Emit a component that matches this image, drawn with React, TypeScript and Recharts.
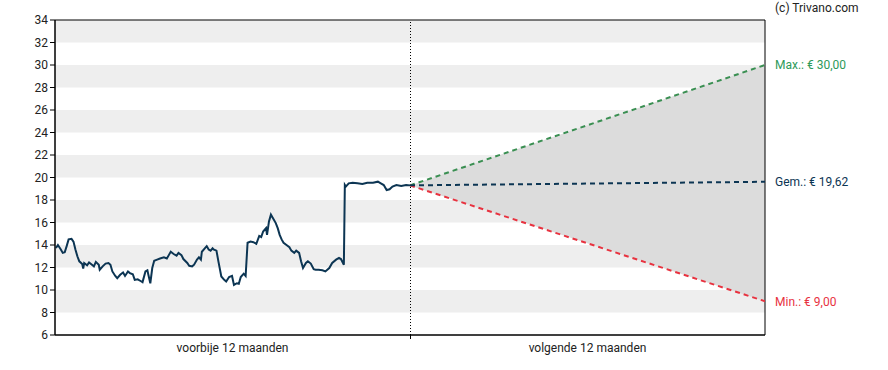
import React from "react";
import {
  ComposedChart,
  Line,
  Area,
  XAxis,
  YAxis,
  ReferenceArea,
  ReferenceLine,
  ReferenceDot,
} from "recharts";

// Historical closing prices (day index within the past 12 months, price in €)
const histDays = [
  1, 3, 6, 8, 10, 12, 14, 17, 19, 21, 23, 25, 28, 29, 30, 33, 35, 38, 40, 42, 45, 46, 49, 52, 55, 57, 59, 62, 64, 67,
  70, 72, 75, 77, 80, 82, 85, 88, 90, 93, 95, 96, 98, 100, 102, 105, 108, 112, 115, 117, 119, 122, 125, 127, 130, 132,
  136, 138, 141, 143, 146, 148, 150, 151, 154, 156, 158, 160, 162, 163, 166, 168, 171, 174, 176, 179, 182, 184, 187,
  189, 191, 194, 196, 198, 201, 204, 207, 210, 212, 214, 217, 218, 220, 222, 224, 227, 229, 231, 233, 235, 238, 241,
  243, 246, 248, 251, 253, 255, 258, 260, 263, 266, 268, 271, 275, 278, 282, 285, 289, 292, 294, 297, 298, 299, 302,
  306, 311, 316, 321, 327, 332, 335, 338, 341, 344, 347, 351, 356, 361, 365,
];
const histPrices = [
  13.73, 14.0, 13.6, 13.3, 13.35, 13.9, 14.5, 14.55, 14.3, 13.6, 13.0, 12.55, 12.3, 11.9, 12.4, 12.2, 12.45, 12.25,
  12.1, 12.5, 12.25, 11.8, 12.1, 12.35, 12.4, 12.25, 11.65, 11.25, 11.05, 11.35, 11.55, 11.25, 11.65, 11.5, 11.4, 10.9,
  10.95, 10.8, 10.7, 11.65, 11.75, 11.35, 10.6, 11.95, 12.6, 12.7, 12.8, 12.9, 12.8, 13.1, 13.4, 13.2, 13.05, 13.3,
  13.1, 12.75, 12.4, 12.15, 12.1, 12.25, 12.7, 12.9, 12.7, 13.4, 13.7, 13.9, 13.6, 13.5, 13.7, 13.6, 13.5, 12.55, 11.2,
  10.9, 10.75, 11.15, 11.25, 10.45, 10.6, 10.55, 11.15, 11.45, 11.25, 14.2, 14.3, 14.25, 14.1, 14.8, 14.7, 15.2, 15.5,
  14.9, 16.1, 16.7, 16.4, 15.95, 15.5, 14.9, 14.5, 14.2, 14.0, 13.8, 13.5, 13.3, 13.5, 13.3, 12.55, 11.95, 12.4, 12.55,
  12.35, 11.85, 11.8, 11.8, 11.75, 11.65, 11.95, 12.4, 12.7, 12.85, 12.75, 12.25, 19.33, 19.19, 19.48, 19.54, 19.48,
  19.42, 19.54, 19.54, 19.63, 19.48, 19.33, 18.89, 18.95, 19.19, 19.33, 19.24, 19.33, 19.3,
];

// Forecast (next 12 months)
const forecastDays = [365, 730];
const forecastMax = [19.3, 30.0];
const forecastAvg = [19.3, 19.62];
const forecastMin = [19.3, 9.0];

const xLabels = ["voorbije 12 maanden", "volgende 12 maanden"];
const xLabelPositions = [182.5, 547.5];
const dividerDay = 365;
const yTicks = [6, 8, 10, 12, 14, 16, 18, 20, 22, 24, 26, 28, 30, 32, 34];
const bandRanges: [number, number][] = [
  [32, 34],
  [28, 30],
  [24, 26],
  [20, 22],
  [16, 18],
  [12, 14],
  [8, 10],
];

const labelMax = "Max.: € 30,00";
const labelAvg = "Gem.: € 19,62";
const labelMin = "Min.: € 9,00";
const copyright = "(c) Trivano.com";

const histData = histDays.map((d, i) => ({ day: d, price: histPrices[i] }));
const forecastData = forecastDays.map((d, i) => ({
  day: d,
  max: forecastMax[i],
  avg: forecastAvg[i],
  min: forecastMin[i],
  range: [forecastMin[i], forecastMax[i]],
}));

const FONT = "Roboto, 'Noto Sans', sans-serif";
const NAVY = "#0c3553";
const GREEN = "#3a8f52";
const GREEN_TEXT = "#2e9a5a";
const RED = "#e8323f";

const XTick = (props: any) => {
  const { x, y, payload } = props;
  const v = payload.value;
  if (v === dividerDay) {
    return (
      <g>
        <line x1={x} x2={x} y1={y - 8} y2={y - 4} stroke="#000" strokeWidth={1} shapeRendering="crispEdges" />
      </g>
    );
  }
  const idx = xLabelPositions.indexOf(v);
  return (
    <g>
      <text x={x} y={y} dy="0.71em" textAnchor="middle" fontSize={12} fill="#222" fontFamily={FONT}>
        {idx >= 0 ? xLabels[idx] : ""}
      </text>
    </g>
  );
};

export default function App() {
  return (
    <div style={{ position: "absolute", left: 0, top: 0, width: 888, height: 370, fontFamily: FONT }}>
      <div
        style={{
          position: "absolute",
          left: 775,
          top: 1,
          fontSize: 12,
          color: "#222",
          fontFamily: FONT,
          whiteSpace: "nowrap",
        }}
      >
        {copyright}
      </div>
      <ComposedChart
        width={888}
        height={370}
        margin={{ top: 20, right: 123, left: 0, bottom: 0 }}
        style={{ fontFamily: FONT }}
      >
        <XAxis
          dataKey="day"
          type="number"
          domain={[0, 730]}
          ticks={[xLabelPositions[0], dividerDay, xLabelPositions[1]]}
          tickLine={false}
          tick={<XTick />}
          axisLine={{ stroke: "#000" }}
          height={35}
          interval={0}
          allowDataOverflow
        />
        <YAxis
          type="number"
          domain={[6, 34]}
          ticks={yTicks}
          interval={0}
          width={55}
          tickSize={5}
          tickMargin={2}
          tick={{ fontSize: 12, fill: "#222", fontFamily: FONT }}
          axisLine={{ stroke: "#000" }}
          tickLine={{ stroke: "#000" }}
          allowDataOverflow
        />
        {bandRanges.map(([a, b]) => (
          <ReferenceArea
            key={a}
            x1={0}
            x2={730}
            y1={a}
            y2={b}
            fill="#eeeeee"
            fillOpacity={1}
            stroke="none"
            ifOverflow="hidden"
          />
        ))}
        <Area
          data={forecastData}
          dataKey="range"
          type="linear"
          fill="#dcdcdc"
          fillOpacity={1}
          stroke="none"
          isAnimationActive={false}
          dot={false}
          activeDot={false}
        />
        <ReferenceLine
          x={dividerDay}
          stroke="#000"
          strokeWidth={1}
          strokeDasharray="1 2"
          shapeRendering="crispEdges"
        />
        <Line
          data={forecastData}
          dataKey="max"
          type="linear"
          stroke={GREEN}
          strokeWidth={2}
          strokeDasharray="5 4"
          dot={false}
          isAnimationActive={false}
        />
        <Line
          data={forecastData}
          dataKey="min"
          type="linear"
          stroke={RED}
          strokeWidth={2}
          strokeDasharray="5 4"
          dot={false}
          isAnimationActive={false}
        />
        <Line
          data={forecastData}
          dataKey="avg"
          type="linear"
          stroke={NAVY}
          strokeWidth={2}
          strokeDasharray="5 4"
          dot={false}
          isAnimationActive={false}
        />
        <Line
          data={histData}
          dataKey="price"
          type="linear"
          stroke={NAVY}
          strokeWidth={2}
          dot={false}
          isAnimationActive={false}
        />
        <ReferenceArea
          x1={0}
          x2={730}
          y1={6}
          y2={34}
          fill="none"
          stroke="#000"
          strokeWidth={1}
        />
        <ReferenceDot
          x={730}
          y={forecastMax[1]}
          r={0}
          fill="none"
          stroke="none"
          ifOverflow="visible"
          label={{ value: labelMax, position: "right", offset: 10, fill: GREEN_TEXT, fontSize: 12, fontFamily: FONT }}
        />
        <ReferenceDot
          x={730}
          y={forecastAvg[1]}
          r={0}
          fill="none"
          stroke="none"
          ifOverflow="visible"
          label={{ value: labelAvg, position: "right", offset: 10, fill: NAVY, fontSize: 12, fontFamily: FONT }}
        />
        <ReferenceDot
          x={730}
          y={forecastMin[1]}
          r={0}
          fill="none"
          stroke="none"
          ifOverflow="visible"
          label={{ value: labelMin, position: "right", offset: 10, fill: RED, fontSize: 12, fontFamily: FONT }}
        />
      </ComposedChart>
    </div>
  );
}
